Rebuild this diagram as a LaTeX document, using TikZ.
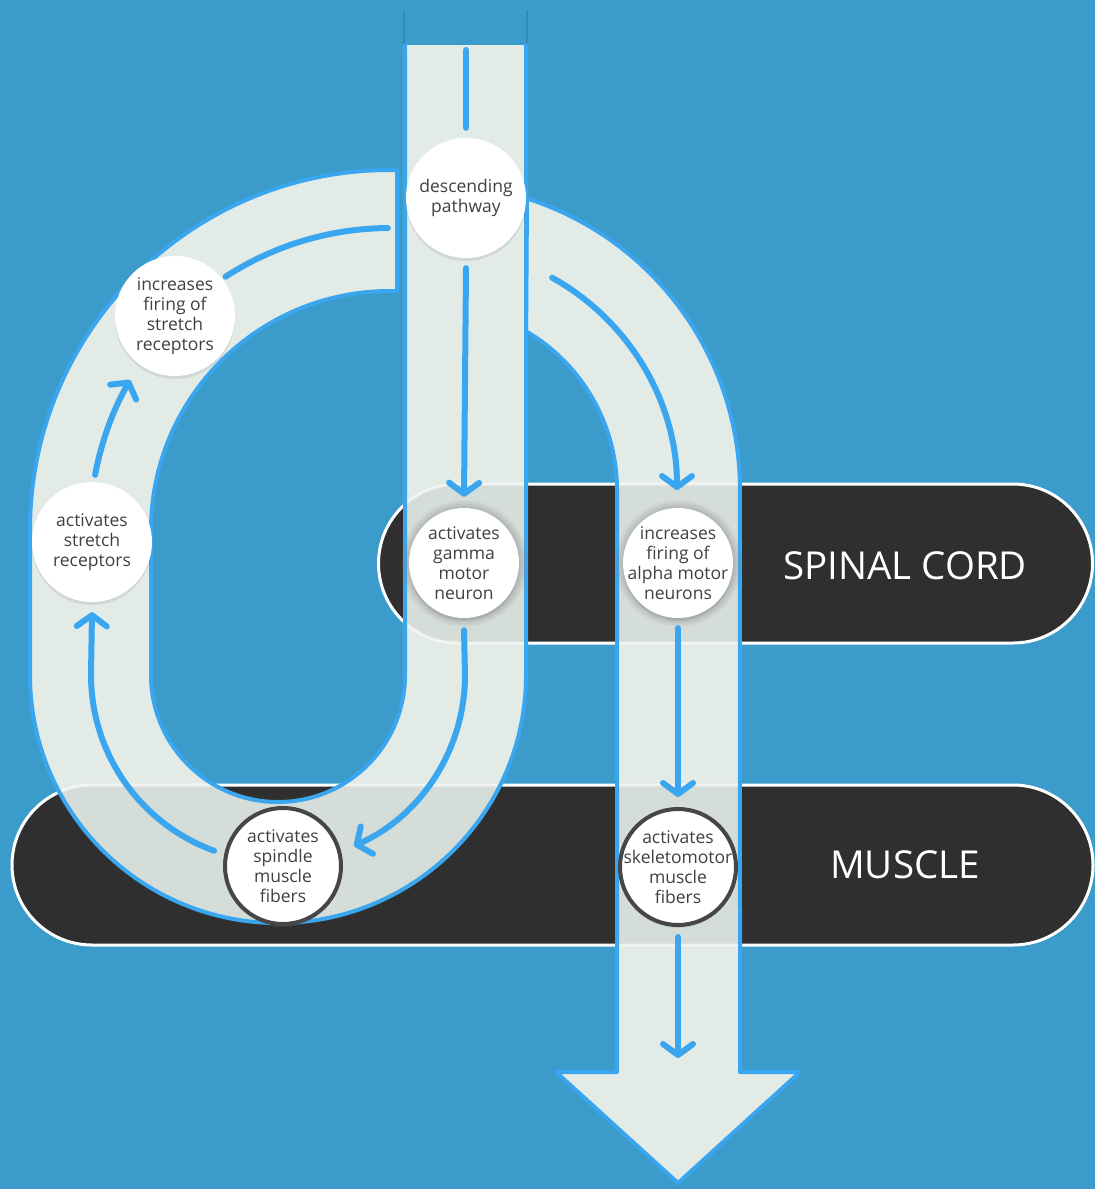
\documentclass[tikz,border=0pt]{standalone}
\usepackage{fontspec}
\setmainfont{Open Sans}
\usetikzlibrary{arrows.meta,shadows,calc}

\definecolor{bgblue}{RGB}{59,155,203}
\definecolor{lineblue}{RGB}{58,166,239}
\definecolor{stubblue}{RGB}{52,138,178}
\definecolor{bandgray}{RGB}{227,235,230}
\definecolor{bardark}{RGB}{47,47,47}
\definecolor{textgray}{RGB}{64,64,64}
\definecolor{ringgray}{RGB}{70,70,70}

\newcommand{\spinalpath}{(458,-484) -- (1013,-484) arc[start angle=90,end angle=-90,radius=79.5] -- (458,-643) arc[start angle=270,end angle=90,radius=79.5] -- cycle}
\newcommand{\musclepath}{(92,-785) -- (1013,-785) arc[start angle=90,end angle=-90,radius=80] -- (92,-945) arc[start angle=270,end angle=90,radius=80] -- cycle}
\newcommand{\looppath}{(397,-170) -- (390,-170) arc[start angle=90,end angle=180,radius=360] -- (30,-675) arc[start angle=180,end angle=360,radius=248] -- (526,-45) -- (405,-45) -- (405,-675) arc[start angle=0,end angle=-180,radius=127] -- (151,-530) arc[start angle=180,end angle=90,radius=239] -- (397,-291) -- cycle}
\newcommand{\branchpath}{(527,-198.5) arc[start angle=72.3,end angle=0,radius=306] -- (740,-1072) -- (800,-1072) -- (678,-1183) -- (556,-1072) -- (617,-1072) -- (617,-490) arc[start angle=0,end angle=59.6,radius=184] -- cycle}

\tikzset{
  bar/.style={fill=bardark, draw=white, line width=3pt},
  bandedge/.style={draw=lineblue, line width=4pt, line join=round},
  bubble/.style={circle, fill=white, minimum size=120pt, inner sep=-16pt, align=center,
    text=textgray, font=\fontsize{17.5}{20}\selectfont,
    drop shadow={shadow xshift=0pt, shadow yshift=-3pt, opacity=0.18}},
  glowing/.style={bubble, minimum size=110pt,
    circular drop shadow={shadow scale=1.16, shadow xshift=0pt, shadow yshift=0pt, opacity=0.45}},
  ringed/.style={bubble, minimum size=116pt, draw=ringgray, line width=4pt},
  flow/.style={draw=lineblue, line width=6pt, line cap=round,
    -{Straight Barb[length=11pt, width=30pt, round]}},
  flowline/.style={draw=lineblue, line width=6pt, line cap=round},
  barname/.style={text=white, font=\fontsize{38.5}{40}\selectfont}
}

\begin{document}
\begin{tikzpicture}[x=1pt, y=1pt]
	\fill[bgblue] (0,0) rectangle (1095,-1189);
	\useasboundingbox (0,0) rectangle (1095,-1189);

	\path[bar] \spinalpath;
	\path[bar] \musclepath;

	\fill[bandgray] \branchpath;
	\begin{scope}
	\clip \branchpath;
	\fill[black, opacity=0.06] \spinalpath \musclepath;
	\draw[white, opacity=0.6, line width=3pt] \spinalpath \musclepath;
	\end{scope}
	\path[bandedge] \branchpath;

	\fill[bandgray] \looppath;
	\begin{scope}
	\clip \looppath;
	\fill[black, opacity=0.06] \spinalpath \musclepath;
	\draw[white, opacity=0.6, line width=3pt] \spinalpath \musclepath;
	\end{scope}
	\path[bandedge] \looppath;

	% open top of the descending band
	\fill[bandgray] (407,-49) rectangle (524,-45);
	\fill[bgblue] (407,-45) rectangle (524,-42);
	\draw[stubblue, line width=1.5pt] (404,-10) -- (404,-44) (527,-10) -- (527,-44);

	\coordinate (source) at (466,-50);
	\coordinate (sink) at (678,-1058);
	\coordinate (upper) at (390,-530);
	\coordinate (lower) at (278,-675);
	\coordinate (bend) at (434,-490);

	\node[bubble] (descending) at (466,-198) {descending\\pathway};
	\node[bubble] (stretchinc) at (175,-316) {increases\\firing of\\stretch\\receptors};
	\node[bubble] (stretchact) at (92,-542) {activates\\stretch\\receptors};
	\node[glowing] (gamma) at (464,-563) {activates\\gamma\\motor\\neuron};
	\node[glowing] (alpha) at (678,-563) {increases\\firing of\\alpha motor\\neurons};
	\node[ringed] (spindle) at (283,-866) {activates\\spindle\\muscle\\fibers};
	\node[ringed] (skeleto) at (678,-867) {activates\\skeletomotor\\muscle\\fibers};

	\draw[flowline] (source) -- ([yshift=10pt]descending.north);
	\draw[flow] ([yshift=-10pt]descending.south) -- ([yshift=11pt]gamma.north);
	\draw[flowline, shift={(upper)}] (90.4:302) arc[start angle=90.4, end angle=123, radius=302];
	\draw[flow, shift={(upper)}] (169.4:300) arc[start angle=169.4, end angle=150, radius=300];
	\draw[flow] ($(lower)+(250:187)$) arc[start angle=250, end angle=180, radius=187] -- ([yshift=-10pt]stretchact.south);
	\draw[flow] ([yshift=-12pt]gamma.south) -- ($(lower)+(187,0)$) arc[start angle=0, end angle=-66, radius=187];
	\draw[flow, shift={(bend)}] (60.9:243) arc[start angle=60.9, end angle=0, radius=243];
	\draw[flow] ([yshift=-10pt]alpha.south) -- ([yshift=10pt]skeleto.north);
	\draw[flow] ([yshift=-10pt]skeleto.south) -- (sink);

	\node[barname] (cord) at (905,-566) {SPINAL CORD};
	\node[barname] (muscle) at (905,-865) {MUSCLE};
\end{tikzpicture}
\end{document}
